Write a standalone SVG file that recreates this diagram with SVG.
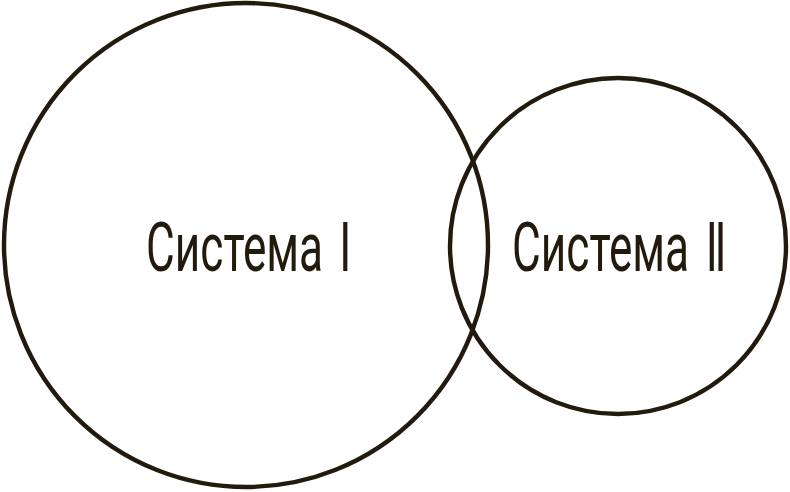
<svg xmlns="http://www.w3.org/2000/svg" width="790" height="492" viewBox="0 0 790 492">
<style>
.ring{fill:none;stroke:#221a0c;stroke-width:4.4}
.lbl{font-family:Roboto,"Liberation Sans",sans-serif;font-weight:400;font-size:68px;fill:#221a0c}
</style>
<rect width="790" height="492" fill="#ffffff"/>
<g id="system1">
<circle class="ring" cx="246" cy="245" r="242"/>
<text class="lbl" transform="translate(146,271) scale(0.65,1)" x="0" y="0" word-spacing="8">Система I</text>
</g>
<g id="system2">
<circle class="ring" cx="618" cy="246" r="168"/>
<text class="lbl" transform="translate(512,271) scale(0.65,1)" x="0" y="0" word-spacing="8.6">Система <tspan letter-spacing="-5">II</tspan></text>
</g>
<g id="connectors"></g>
</svg>
